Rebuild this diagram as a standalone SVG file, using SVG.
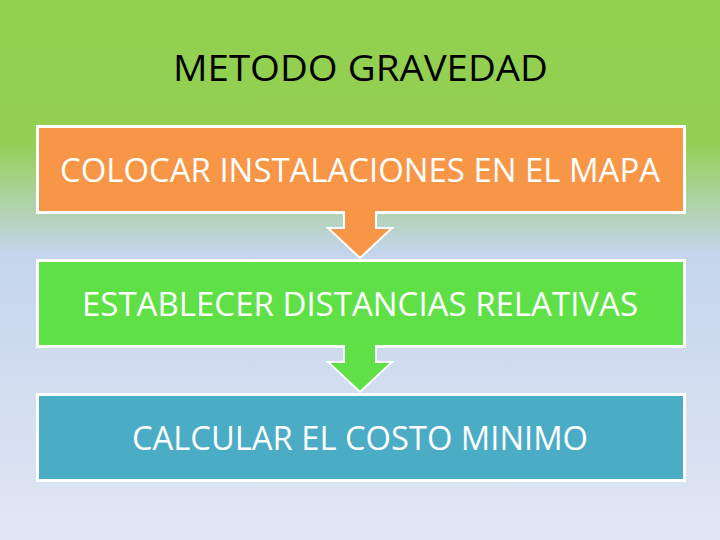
<svg xmlns="http://www.w3.org/2000/svg" width="720" height="540" viewBox="0 0 720 540">
  <defs>
    <linearGradient id="bg" x1="0" y1="0" x2="0" y2="1">
      <stop offset="0" stop-color="#92D050"/>
      <stop offset="0.26" stop-color="#93D052"/>
      <stop offset="0.47" stop-color="#C4D5EC"/>
      <stop offset="1" stop-color="#E1E7F4"/>
    </linearGradient>
    <style>
      .box { stroke: #FFFFFF; stroke-width: 3; }
      .arrow { stroke: #FFFFFF; stroke-width: 2; stroke-linejoin: miter; }
      .label { font-family: "Open Sans", "Noto Sans", "Liberation Sans", sans-serif; font-size: 32px; fill: #FFFFFF; }
      .title { font-family: "Open Sans", "Noto Sans", "Liberation Sans", sans-serif; font-size: 37px; fill: #000000; }
    </style>
  </defs>
  <rect x="0" y="0" width="720" height="540" fill="url(#bg)"/>
  <text class="title" x="173" y="81" textLength="375" lengthAdjust="spacingAndGlyphs">METODO GRAVEDAD</text>

  <g id="node1">
    <rect class="box" x="37.5" y="126.5" width="647" height="86" fill="#F79646"/>
    <text class="label" x="60" y="182" textLength="600" lengthAdjust="spacingAndGlyphs">COLOCAR INSTALACIONES EN EL MAPA</text>
  </g>
  <g id="node2">
    <rect class="box" x="37.5" y="260.5" width="647" height="86" fill="#5FE047"/>
    <text class="label" x="82" y="316" textLength="556" lengthAdjust="spacingAndGlyphs">ESTABLECER DISTANCIAS RELATIVAS</text>
  </g>
  <g id="node3">
    <rect class="box" x="37.5" y="394.5" width="647" height="86" fill="#4BACC6"/>
    <text class="label" x="132" y="450" textLength="456" lengthAdjust="spacingAndGlyphs">CALCULAR EL COSTO MINIMO</text>
  </g>

  <g id="connectors">
    <path class="arrow" d="M344,211 V228 H328 L360,258 L392,228 H376 V211" fill="#F79646"/>
    <path class="arrow" d="M344,345 V362 H328 L360,392 L392,362 H376 V345" fill="#5FE047"/>
  </g>
</svg>
